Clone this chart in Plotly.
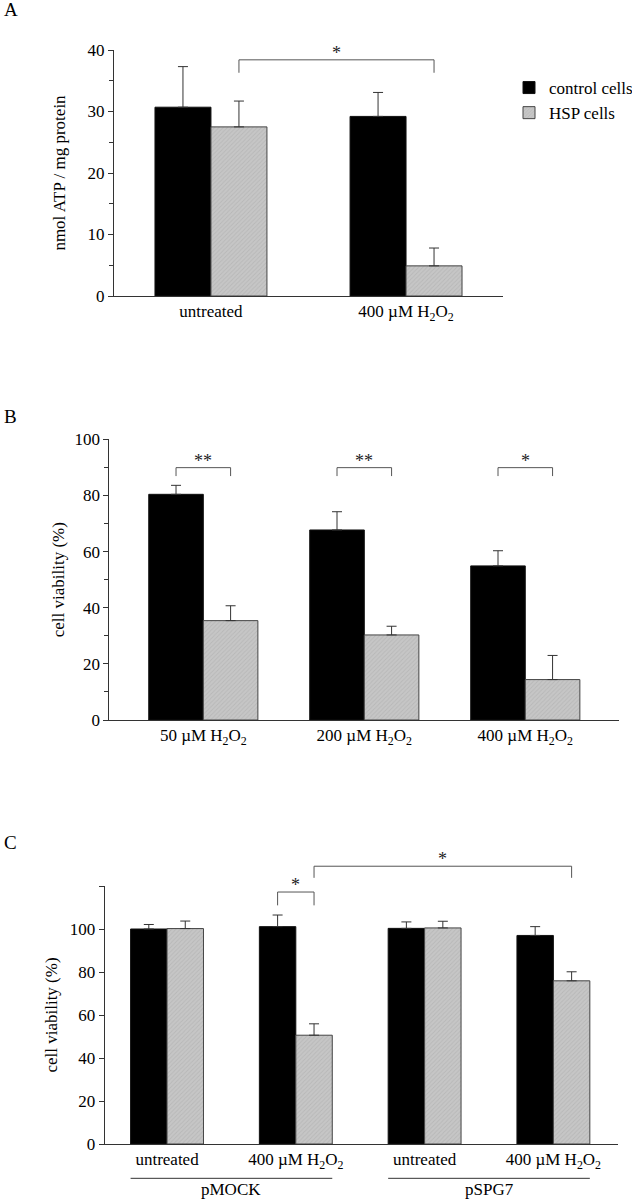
import plotly.graph_objects as go

# ---------------- data ----------------
series_names = ["control cells", "HSP cells"]

a_categories = ["untreated", "400 µM H<sub>2</sub>O<sub>2</sub>"]
a_control = [30.7, 29.2]
a_control_err = [6.6, 3.9]
a_hsp = [27.5, 4.9]
a_hsp_err = [4.2, 2.9]
a_ticks = [0, 10, 20, 30, 40]

b_categories = ["50 µM H<sub>2</sub>O<sub>2</sub>", "200 µM H<sub>2</sub>O<sub>2</sub>", "400 µM H<sub>2</sub>O<sub>2</sub>"]
b_control = [80.4, 67.7, 54.9]
b_control_err = [3.2, 6.5, 5.4]
b_hsp = [35.4, 30.3, 14.4]
b_hsp_err = [5.3, 3.1, 8.6]
b_ticks = [0, 20, 40, 60, 80, 100]
b_stars = ["**", "**", "*"]

c_categories = ["untreated", "400 µM H<sub>2</sub>O<sub>2</sub>", "untreated", "400 µM H<sub>2</sub>O<sub>2</sub>"]
c_groups = ["pMOCK", "pSPG7"]
c_control = [100.0, 101.1, 100.3, 97.0]
c_control_err = [2.1, 5.4, 3.0, 4.1]
c_hsp = [100.2, 50.6, 100.5, 75.9]
c_hsp_err = [3.5, 5.3, 3.1, 4.2]
c_ticks = [0, 20, 40, 60, 80, 100, 120]

# ---------------- style ----------------
W, H = 632, 1200
FONT = "Liberation Serif"
AXC = "#333333"
BLACK = "#000000"
GREY_BG = "#c6c6c6"
GREY_FG = "#a9a9a9"
OUTLINE = "#444444"


def px_domain_x(a, b):
    return [a / W, b / W]


def px_domain_y(top, bottom):
    return [1 - bottom / H, 1 - top / H]


panels = [
    dict(cats=a_categories, ctl=a_control, ctl_e=a_control_err, hsp=a_hsp, hsp_e=a_hsp_err,
         w=0.287, xr=[-0.497, 1.497], yr=[0, 40], ticks=a_ticks, minor=5,
         xd=px_domain_x(114, 503), yd=px_domain_y(50, 296), standoff=17),
    dict(cats=b_categories, ctl=b_control, ctl_e=b_control_err, hsp=b_hsp, hsp_e=b_hsp_err,
         w=0.339, xr=[-0.584, 2.584], yr=[0, 100], ticks=b_ticks, minor=10,
         xd=px_domain_x(109.3, 619.3), yd=px_domain_y(439.3, 720), standoff=5),
    dict(cats=c_categories, ctl=c_control, ctl_e=c_control_err, hsp=c_hsp, hsp_e=c_hsp_err,
         w=0.283, xr=[-0.484, 3.504], yr=[0, 120], ticks=c_ticks, minor=None,
         xd=px_domain_x(104.7, 618.3), yd=px_domain_y(886, 1144), standoff=7),
]

fig = go.Figure()
shapes = []
annotations = []

for i, p in enumerate(panels):
    sfx = "" if i == 0 else str(i + 1)
    xa, ya = "x" + sfx, "y" + sfx
    pos = list(range(len(p["cats"])))
    w = p["w"]
    for j, (vals, errs, color, name) in enumerate([
        (p["ctl"], p["ctl_e"], BLACK, series_names[0]),
        (p["hsp"], p["hsp_e"], GREY_BG, series_names[1]),
    ]):
        marker = dict(color=color, line=dict(color=OUTLINE if j else "#111111", width=1))
        if j == 1:
            marker["pattern"] = dict(shape="/", size=3, solidity=0.3, fgcolor=GREY_FG, bgcolor=GREY_BG)
        fig.add_trace(go.Bar(
            x=pos, y=vals, width=w, offset=-w if j == 0 else 0,
            name=name, legendgroup=name, showlegend=(i == 0),
            marker=marker,
            error_y=dict(type="data", symmetric=False, array=errs, arrayminus=[0] * len(vals),
                         color=AXC, thickness=1, width=5),
            xaxis=xa, yaxis=ya, hoverinfo="y",
        ))

    xkey = "xaxis" + sfx
    ykey = "yaxis" + sfx
    yaxis = dict(
        domain=p["yd"], range=p["yr"], anchor=xa,
        tickmode="array", tickvals=p["ticks"],
        ticktext=[("" if (i == 2 and t == 120) else str(t)) for t in p["ticks"]],
        ticks="outside", ticklen=5, tickwidth=1, tickcolor=AXC,
        showline=True, linecolor=AXC, linewidth=1, showgrid=False, zeroline=False,
        tickfont=dict(family=FONT, size=17, color="black"),
        title=dict(text="nmol ATP / mg protein" if i == 0 else "cell viability (%)",
                   font=dict(family=FONT, size=17, color="black"), standoff=p["standoff"]),
    )
    if p["minor"]:
        yaxis["minor"] = dict(dtick=p["minor"], ticks="outside", ticklen=4, tickwidth=1, tickcolor=AXC, showgrid=False)
    xaxis = dict(
        domain=p["xd"], range=p["xr"], anchor=ya,
        tickmode="array", tickvals=pos, ticktext=p["cats"], ticks="",
        showline=True, linecolor=AXC, linewidth=1, showgrid=False, zeroline=False,
        tickfont=dict(family=FONT, size=17, color="black"),
    )
    fig.update_layout(**{xkey: xaxis, ykey: yaxis})

    # end tick at right end of x axis
    shapes.append(dict(type="line", xref=xa + " domain", yref=ya, x0=1, x1=1,
                       ysizemode="pixel", yanchor=0, y0=0, y1=-6,
                       line=dict(color=AXC, width=1)))
    # small tick below origin
    shapes.append(dict(type="line", xref=xa + " domain", yref=ya, x0=0, x1=0,
                       ysizemode="pixel", yanchor=0, y0=0, y1=-4,
                       line=dict(color=AXC, width=1)))


def bracket(k, x0, x1, ytop, ybot, star):
    """Significance bracket on panel k; heights given in data units, drawn in domain units."""
    sfx = "" if k == 0 else str(k + 1)
    ymax = panels[k]["yr"][1]
    t, b = ytop / ymax, ybot / ymax
    shapes.append(dict(type="path", xref="x" + sfx, yref="y" + sfx + " domain",
                       path=f"M {x0},{b} L {x0},{t} L {x1},{t} L {x1},{b}",
                       line=dict(color="#555555", width=1)))
    annotations.append(dict(x=(x0 + x1) / 2, y=t, xref="x" + sfx, yref="y" + sfx + " domain",
                            text=star, showarrow=False, yanchor="bottom", yshift=-5,
                            font=dict(family=FONT, size=18, color="#222222")))


# Panel A bracket: HSP untreated vs HSP H2O2
wA = panels[0]["w"]
bracket(0, 0 + wA / 2, 1 + wA / 2, 38.4, 36.3, "*")

# Panel B brackets: control vs HSP at each dose
wB = panels[1]["w"]
for k, s in enumerate(b_stars):
    bracket(1, k - wB / 2, k + wB / 2, 89.9, 86.9, s)

# Panel C brackets
wC = panels[2]["w"]
bracket(2, 1 - wC / 2, 1 + wC / 2, 117.2, 111.0, "*")
bracket(2, 1 + wC / 2, 3 + wC / 2, 129.2, 123.8, "*")

# Panel C group lines and labels
for g, name in enumerate(c_groups):
    left, right = 2 * g, 2 * g + 1
    shapes.append(dict(type="line", xref="x3", yref="y3 domain", x0=left - wC, x1=right + wC,
                       y0=-0.133, y1=-0.133, line=dict(color="#333333", width=1)))
    annotations.append(dict(x=(left + right) / 2, y=-0.178, xref="x3", yref="y3 domain",
                            text=name, showarrow=False, yanchor="middle",
                            font=dict(family=FONT, size=17, color="black")))

# Panel letters
for letter, ypx in [("A", 10), ("B", 417), ("C", 842)]:
    annotations.append(dict(x=2 / W, y=1 - ypx / H, xref="paper", yref="paper", text=letter,
                            showarrow=False, xanchor="left", yanchor="middle",
                            font=dict(family=FONT, size=19, color="black")))

fig.update_layout(
    width=W, height=H,
    margin=dict(l=0, r=0, t=0, b=0, autoexpand=False),
    paper_bgcolor="white", plot_bgcolor="white",
    barmode="overlay",
    shapes=shapes, annotations=annotations,
    showlegend=True,
    legend=dict(x=509 / W, y=1 - 70 / H, xanchor="left", yanchor="top",
                font=dict(family=FONT, size=17, color="black"),
                bgcolor="rgba(0,0,0,0)", tracegroupgap=0, itemwidth=30),
    font=dict(family=FONT, color="black"),
)

fig.write_html("out.html", config={"displayModeBar": False},
               post_script="document.body.style.margin='0';document.body.style.padding='0';")
